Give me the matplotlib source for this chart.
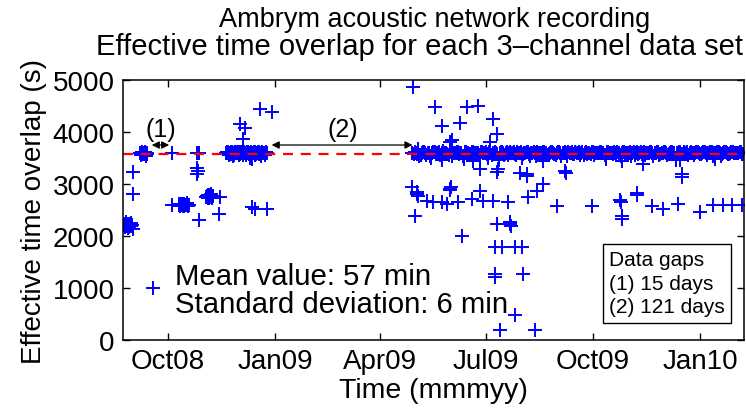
import numpy as np
import matplotlib
matplotlib.use("Agg")
import matplotlib.pyplot as plt
import matplotlib.dates as mdates

plt.rcParams['font.family'] = ['Liberation Sans', 'DejaVu Sans']

# time axis: days counted from 1 Oct 2008
base_date = np.datetime64('2008-10-01')
x_range_days = [-38.7, 494.8]
y_ticks = [0, 1000, 2000, 3000, 4000, 5000]
mean_level = 3580

# dense runs of data sets (day, effective overlap in s)
run08_days = [-38, -37, -36, -35, -34, -33, -32, -31,
              -24, -23, -22, -21, -20, -19, -18,
              9, 10, 11, 12, 13, 14, 15, 16, 17, 18,
              33, 34, 35, 36, 37, 38, 39,
              50, 51, 52, 53, 54, 55, 56, 57, 58, 59, 60, 61, 62, 63, 64, 65, 66, 67,
              68, 69, 70, 71, 72, 73, 74, 75, 76, 77, 78, 79, 80, 81, 82, 83, 84, 85]
run08_vals = [2230, 2180, 2260, 2200, 2150, 2240, 2190, 2210,
              3600, 3560, 3620, 3580, 3600, 3540, 3600,
              2600, 2580, 2620, 2590, 2610, 2570, 2600, 2630, 2590, 2600,
              2750, 2780, 2730, 2760, 2800, 2740, 2770,
              3600, 3620, 3560, 3600, 3580, 3610, 3540, 3600, 3620, 3590, 3600, 3560, 3610, 3600,
              3580, 3620, 3600, 3550, 3600, 3610, 3590, 3520, 3480, 3600, 3620, 3560, 3600, 3590,
              3610, 3600, 3540, 3620, 3600, 3580, 3610, 3600]

run08b_days = [-37.5, -36.5, -35.5, -34.5, -33.5, -32.5, -31.5,
               -23.5, -22.5, -21.5, -20.5, -19.5, -18.5,
               9.5, 10.5, 11.5, 12.5, 13.5, 14.5, 15.5, 16.5, 17.5,
               33.5, 34.5, 35.5, 36.5, 37.5, 38.5,
               50.5, 51.5, 52.5, 53.5, 54.5, 55.5, 56.5, 57.5, 58.5, 59.5, 60.5, 61.5, 62.5, 63.5,
               64.5, 65.5, 66.5, 67.5, 68.5, 69.5, 70.5, 71.5, 72.5, 73.5, 74.5, 75.5, 76.5, 77.5,
               78.5, 79.5, 80.5, 81.5, 82.5, 83.5, 84.5]
run08b_vals = [2210, 2240, 2190, 2230, 2170, 2220, 2250,
               3590, 3610, 3570, 3600, 3620, 3580,
               2610, 2590, 2600, 2580, 2620, 2600, 2590, 2610, 2580,
               2760, 2740, 2790, 2750, 2770, 2760,
               3590, 3610, 3600, 3570, 3620, 3600, 3550, 3610, 3590, 3600, 3620, 3580, 3600, 3610,
               3560, 3600, 3590, 3620, 3600, 3580, 3500, 3610, 3600, 3590, 3620, 3570, 3600, 3610,
               3580, 3600, 3620, 3590, 3600, 3560, 3610]

band09_days = [
    210, 212, 214, 216, 218, 220, 222, 224, 226, 228, 230, 232, 234, 236, 238, 240, 242, 244, 246, 248,
    250, 252, 254, 256, 258, 260, 262, 264, 266, 268, 270, 272, 274, 276, 278, 280, 282, 284, 286, 288,
    290, 292, 294, 296, 298, 300, 302, 304, 306, 308, 310, 312, 314, 316, 318, 320, 322, 324, 326, 328,
    330, 332, 334, 336, 338, 340, 342, 344, 346, 348, 350, 352, 354, 356, 358, 360, 362, 364, 366, 368,
    370, 372, 374, 376, 378, 380, 382, 384, 386, 388, 390, 392, 394, 396, 398, 400, 402, 404, 406, 408,
    410, 412, 414, 416, 418, 420, 422, 424, 426, 428, 430, 432, 434, 436, 438, 440, 442, 444, 446, 448,
    450, 452, 454, 456, 458, 460, 462, 464, 466, 468, 470, 472, 474, 476, 478, 480, 482, 484, 486, 488,
    490, 492, 494]
band09_vals = [
    3600, 3620, 3580, 3540, 3600, 3610, 3560, 3600, 3500, 3620, 3590, 3600, 3550, 3630, 3600, 3580, 3610, 3540, 3600, 3620,
    3570, 3600, 3490, 3610, 3600, 3560, 3620, 3590, 3600, 3530, 3610, 3600, 3580, 3620, 3560, 3600, 3600, 3470, 3610, 3590,
    3600, 3550, 3620, 3600, 3580, 3610, 3600, 3500, 3600, 3620, 3570, 3600, 3610, 3540, 3600, 3590, 3620, 3600, 3560, 3600,
    3610, 3580, 3600, 3620, 3540, 3600, 3590, 3610, 3600, 3570, 3620, 3600, 3560, 3610, 3600, 3580, 3600, 3620, 3550, 3600,
    3590, 3610, 3600, 3480, 3620, 3600, 3570, 3600, 3610, 3560, 3600, 3620, 3590, 3600, 3540, 3610, 3600, 3580, 3620, 3600,
    3560, 3600, 3610, 3590, 3600, 3620, 3550, 3600, 3610, 3600, 3580, 3620, 3600, 3470, 3600, 3610, 3570, 3600, 3620, 3590,
    3600, 3560, 3610, 3600, 3580, 3620, 3600, 3590, 3610, 3540, 3600, 3620, 3600, 3570, 3610, 3600, 3580, 3620, 3600, 3590,
    3600, 3610, 3580]

band09b_days = [
    211, 213, 215, 217, 219, 221, 223, 225, 227, 229, 231, 233, 235, 237, 239, 241, 243, 245, 247, 249,
    251, 253, 255, 257, 259, 261, 263, 265, 267, 269, 271, 273, 275, 277, 279, 281, 283, 285, 287, 289,
    291, 293, 295, 297, 299, 301, 303, 305, 307, 309, 311, 313, 315, 317, 319, 321, 323, 325, 327, 329,
    331, 333, 335, 337, 339, 341, 343, 345, 347, 349, 351, 353, 355, 357, 359, 361, 363, 365, 367, 369,
    371, 373, 375, 377, 379, 381, 383, 385, 387, 389, 391, 393, 395, 397, 399, 401, 403, 405, 407, 409,
    411, 413, 415, 417, 419, 421, 423, 425, 427, 429, 431, 433, 435, 437, 439, 441, 443, 445, 447, 449,
    451, 453, 455, 457, 459, 461, 463, 465, 467, 469, 471, 473, 475, 477, 479, 481, 483, 485, 487, 489,
    491, 493]
band09b_vals = [
    3580, 3600, 3610, 3560, 3620, 3600, 3590, 3540, 3600, 3610, 3570, 3620, 3600, 3580, 3600, 3550, 3610, 3600, 3590, 3620,
    3600, 3540, 3610, 3600, 3580, 3620, 3590, 3600, 3560, 3610, 3600, 3620, 3500, 3600, 3590, 3610, 3580, 3600, 3620, 3560,
    3610, 3600, 3590, 3620, 3550, 3600, 3610, 3580, 3600, 3620, 3540, 3600, 3590, 3610, 3600, 3570, 3620, 3600, 3580, 3610,
    3600, 3560, 3620, 3590, 3600, 3610, 3540, 3600, 3620, 3580, 3600, 3610, 3590, 3560, 3620, 3600, 3570, 3610, 3600, 3590,
    3620, 3600, 3550, 3610, 3590, 3600, 3620, 3580, 3600, 3540, 3610, 3600, 3590, 3620, 3600, 3560, 3610, 3600, 3580, 3620,
    3600, 3590, 3610, 3540, 3600, 3620, 3580, 3600, 3610, 3560, 3600, 3620, 3590, 3600, 3610, 3580, 3620, 3600, 3550, 3610,
    3600, 3590, 3620, 3580, 3600, 3610, 3560, 3600, 3620, 3590, 3600, 3610, 3540, 3600, 3620, 3580, 3600, 3610, 3590, 3600,
    3620, 3580]

# isolated data sets
odd_days = [-30, -29.8, -29.8, -13, 3.2, 3.5,
            25, 26.5, 25, 25.5, 25, 27, 44.7, 44,
            62, 66, 64.7, 79, 89, 72, 74.7, 84.8,
            210.7, 229.4, 235.1, 250.9, 256.5, 266.5, 278.9, 282.9, 276.6, 242.3, 243.7,
            268, 283.8, 282.4, 302.4, 308.2, 308.7, 341, 341.5, 322.4, 316.7, 309.5, 333.9,
            209.4, 213.7, 214.5, 214, 222.2, 227.9, 235.1, 239.4, 249.4, 260.9, 270.9, 279.5, 292.4,
            242.3, 242.8, 242, 268, 212.2, 252.3,
            293.8, 294.3, 293.5, 282.4, 281, 287, 298, 304, 281, 280.5, 305.3,
            298.1, 285.2, 315.3,
            388.3, 388.8, 389.8, 390.3, 402.6, 403, 441.3, 441.8, 408.4,
            364, 415.5, 425.5, 438.4, 457, 468.5, 477, 484.3, 492.8,
            215, 235, 262, 322, 390, 440, 470]
odd_vals = [2130, 3230, 2810, 1000, 3590, 2590,
            3600, 3600, 3300, 3250, 3200, 2300, 2750, 2420,
            4150, 4080, 3870, 4440, 4380, 2550, 2520, 2520,
            4860, 4475, 4120, 4165, 4490, 4505, 4250, 3960, 3800, 3800, 3840,
            3290, 3290, 3225, 3205, 3190, 3160, 3255, 3220, 3000, 2870, 2745, 2580,
            2935, 2840, 2775, 2810, 2680, 2650, 2650, 2615, 2650, 2710, 2680, 2680, 2650,
            2905, 2950, 2880, 2870, 2390, 2005,
            2230, 2200, 2260, 2230, 1780, 1780, 1780, 1780, 1270, 1205, 1270,
            490, 190, 190,
            2700, 2650, 2380, 2330, 2830, 2780, 3200, 3130, 3385,
            2580, 2580, 2520, 2625, 2470, 2600, 2590, 2590, 2590,
            3680, 3460, 3450, 3450, 3450, 3460, 3480]

gap1_days = [-14, 1]
gap2_days = [89, 210]
gap_level = 3750


def to_num(days):
    return mdates.date2num(base_date) + np.asarray(days, dtype=float)


fig = plt.figure(figsize=(7.46, 4.10), dpi=100)
ax = fig.add_axes([0.1649, 0.1683, 0.8324, 0.6341])

mk = dict(ls='none', marker='+', ms=10.5, mew=1.4, color=(0, 0, 1))
ax.plot(to_num(run08_days), run08_vals, **mk)
ax.plot(to_num(run08b_days), run08b_vals, **mk)
ax.plot(to_num(band09_days), band09_vals, **mk)
ax.plot(to_num(band09b_days), band09b_vals, **mk)
ax.plot(to_num(odd_days), odd_vals, **mk)

ax.axhline(mean_level, color='red', lw=1.6, ls=(0, (4.5, 3.5)))

arrow = dict(arrowstyle='<|-|>', color='black', lw=0.9,
             mutation_scale=11, shrinkA=0, shrinkB=0)
for g in (gap1_days, gap2_days):
    ax.annotate('', xy=(to_num(g[0]), gap_level), xytext=(to_num(g[1]), gap_level),
                arrowprops=arrow)
ax.text(to_num(sum(gap1_days) / 2), 4060, '(1)', fontsize=18, ha='center', va='center')
ax.text(to_num(150), 4060, '(2)', fontsize=18, ha='center', va='center')

ax.text(0.084, 0.215, 'Mean value: 57 min', transform=ax.transAxes, fontsize=21.2)
ax.text(0.084, 0.108, 'Standard deviation: 6 min', transform=ax.transAxes, fontsize=21.2)
ax.text(0.7826, 0.345, 'Data gaps\n(1) 15 days\n(2) 121 days', transform=ax.transAxes,
        fontsize=15, va='top', ha='left', linespacing=1.3,
        bbox=dict(boxstyle='square,pad=0.3', fc='white', ec='black', lw=1.0))

ax.set_xlim(to_num(x_range_days[0]), to_num(x_range_days[1]))
ax.set_ylim(0, 5000)
ax.set_yticks(y_ticks)
ax.xaxis.set_major_locator(mdates.MonthLocator(bymonth=[1, 4, 7, 10]))
ax.xaxis.set_major_formatter(mdates.DateFormatter('%b%y'))
ax.tick_params(direction='in', length=5, width=1, top=True, right=True,
               labelsize=20, pad=6)
for s in ax.spines.values():
    s.set_linewidth(1.1)

ax.set_xlabel('Time (mmmyy)', fontsize=20.5, labelpad=2)
ax.set_ylabel('Effective time overlap (s)', fontsize=20, labelpad=4)
fig.text(435 / 746, 1 - 27 / 410, 'Ambrym acoustic network recording',
         fontsize=19.5, ha='center', va='baseline')
fig.text(419 / 746, 1 - 55 / 410, 'Effective time overlap for each 3\u2013channel data set',
         fontsize=21, ha='center', va='baseline')

fig.savefig('out.png', dpi=100)
